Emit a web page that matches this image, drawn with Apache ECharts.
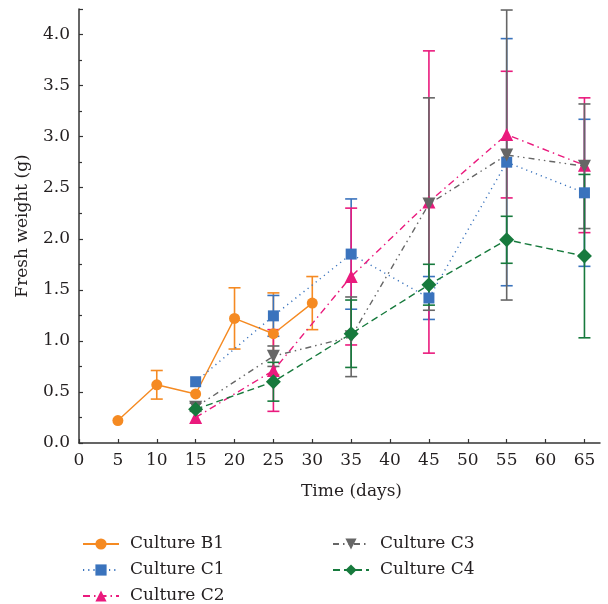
<!DOCTYPE html>
<html>
<head>
<meta charset="utf-8">
<script src="https://cdn.jsdelivr.net/npm/echarts@6/dist/echarts.min.js"></script>
<style>html,body{margin:0;padding:0;background:#fff}#c{width:608px;height:604px}</style>
</head>
<body>
<div id="c"></div>
<script>
const daysB = [5, 10, 15, 20, 25, 30];
const daysC = [15, 25, 35, 45, 55, 65];
const b1Mean = [0.22, 0.57, 0.48, 1.22, 1.07, 1.37];
const b1Err  = [0, 0.14, 0, 0.30, 0.40, 0.26];
const c1Mean = [0.60, 1.245, 1.85, 1.42, 2.75, 2.45];
const c1Err  = [0, 0.20, 0.54, 0.21, 1.21, 0.72];
const c2Mean = [0.25, 0.71, 1.63, 2.36, 3.02, 2.72];
const c2Err  = [0, 0.40, 0.67, 1.48, 0.62, 0.66];
const c3Mean = [0.35, 0.85, 1.04, 2.34, 2.82, 2.71];
const c3Err  = [0.04, 0.10, 0.39, 1.04, 1.42, 0.61];
const c4Mean = [0.33, 0.60, 1.07, 1.55, 1.99, 1.83];
const c4Err  = [0, 0.19, 0.33, 0.20, 0.23, 0.80];
const xTicks = [0, 5, 10, 15, 20, 25, 30, 35, 40, 45, 50, 55, 60, 65];
const names = ['Culture B1', 'Culture C1', 'Culture C2', 'Culture C3', 'Culture C4'];

const FONT = 'DejaVu Serif';
const TXT = '#231f20';

const cultures = [
  {name: names[0], x: daysB, m: b1Mean, e: b1Err, color: '#f58a22', symbol: 'circle', size: 11, rot: 0, dash: 'solid'},
  {name: names[1], x: daysC, m: c1Mean, e: c1Err, color: '#3a73bd', symbol: 'rect', size: 11, rot: 0, dash: [1.2, 4]},
  {name: names[2], x: daysC, m: c2Mean, e: c2Err, color: '#ea1a7d', symbol: 'triangle', size: 13, rot: 0, dash: [7, 4, 1.5, 4]},
  {name: names[3], x: daysC, m: c3Mean, e: c3Err, color: '#666666', symbol: 'triangle', size: 13, rot: 180, dash: [6, 4, 1.5, 4, 1.5, 4]},
  {name: names[4], x: daysC, m: c4Mean, e: c4Err, color: '#177a3d', symbol: 'diamond', size: 15, rot: 0, dash: [7, 4]}
];

const series = [];
cultures.forEach((c, i) => {
  const errData = c.x.map((d, k) => [d, c.m[k], c.e[k]]).filter(r => r[2] > 0);
  series.push({
    type: 'custom',
    name: c.name + ' err',
    z: 2 + i,
    silent: true,
    data: errData,
    encode: {x: 0, y: 1},
    renderItem: function (params, api) {
      const x = api.value(0), y = api.value(1), e = api.value(2);
      const top = api.coord([x, y + e]);
      const bot = api.coord([x, y - e]);
      const hw = 6;
      const st = {stroke: c.color, lineWidth: 1.6};
      return {
        type: 'group',
        children: [
          {type: 'line', shape: {x1: top[0], y1: top[1], x2: bot[0], y2: bot[1]}, style: st},
          {type: 'line', shape: {x1: top[0] - hw, y1: top[1], x2: top[0] + hw, y2: top[1]}, style: st},
          {type: 'line', shape: {x1: bot[0] - hw, y1: bot[1], x2: bot[0] + hw, y2: bot[1]}, style: st}
        ]
      };
    }
  });
  series.push({
    type: 'line',
    name: c.name,
    z: 10 + i,
    data: c.x.map((d, k) => [d, c.m[k]]),
    symbol: c.symbol,
    symbolSize: c.size,
    symbolRotate: c.rot,
    showAllSymbol: true,
    itemStyle: {color: c.color, borderWidth: 0},
    lineStyle: {color: c.color, width: 1.4, type: c.dash},
    emphasis: {disabled: true},
    animation: false
  });
});

// legend layout: column 1 (B1, C1, C2), column 2 (C3, C4); row centers 542, 568, 594
const legendPos = [[82, 544], [82, 570], [82, 596], [332, 544], [332, 570]];
const legends = names.map((n, i) => ({
  left: legendPos[i][0],
  top: legendPos[i][1] - 10,
  padding: 0,
  orient: 'vertical',
  itemWidth: 36,
  itemHeight: 14,
  selectedMode: false,
  data: [n],
  textStyle: {fontFamily: FONT, fontSize: 17, color: TXT, lineHeight: 20, padding: [0, 0, 0, 6]}
}));

const option = {
  animation: false,
  backgroundColor: '#fff',
  textStyle: {fontFamily: FONT},
  grid: {left: 79, right: 8, top: 9, bottom: 161, containLabel: false},
  legend: legends,
  xAxis: {
    type: 'value', min: 0, max: 67, interval: 5,
    name: 'Time (days)', nameLocation: 'middle', nameGap: 40,
    nameTextStyle: {fontFamily: FONT, fontSize: 17, color: TXT, padding: [0, 0, 0, 24]},
    axisLine: {show: true, lineStyle: {color: '#333', width: 1.5}},
    axisTick: {show: true, inside: true, length: 4, lineStyle: {color: '#333', width: 1.2}, customValues: xTicks},
    axisLabel: {fontFamily: FONT, fontSize: 17, color: TXT, margin: 9, customValues: xTicks},
    splitLine: {show: false}
  },
  yAxis: {
    type: 'value', min: 0, max: 4.25, interval: 0.5,
    name: 'Fresh weight (g)', nameLocation: 'middle', nameGap: 48,
    nameTextStyle: {fontFamily: FONT, fontSize: 17, color: TXT},
    axisLine: {show: true, lineStyle: {color: '#333', width: 1.5}},
    axisTick: {show: true, inside: true, length: 4, lineStyle: {color: '#333', width: 1.2}},
    minorTick: {show: true, splitNumber: 2, length: 3, lineStyle: {color: '#333', width: 1.2}},
    axisLabel: {fontFamily: FONT, fontSize: 17, color: TXT, margin: 9, showMaxLabel: false,
      formatter: v => (Math.abs(v * 2 - Math.round(v * 2)) < 1e-6 ? v.toFixed(1) : '')},
    splitLine: {show: false}
  },
  series: series
};

const chart = echarts.init(document.getElementById('c'), null, {renderer: 'canvas'});
chart.setOption(option);
</script>
</body>
</html>
